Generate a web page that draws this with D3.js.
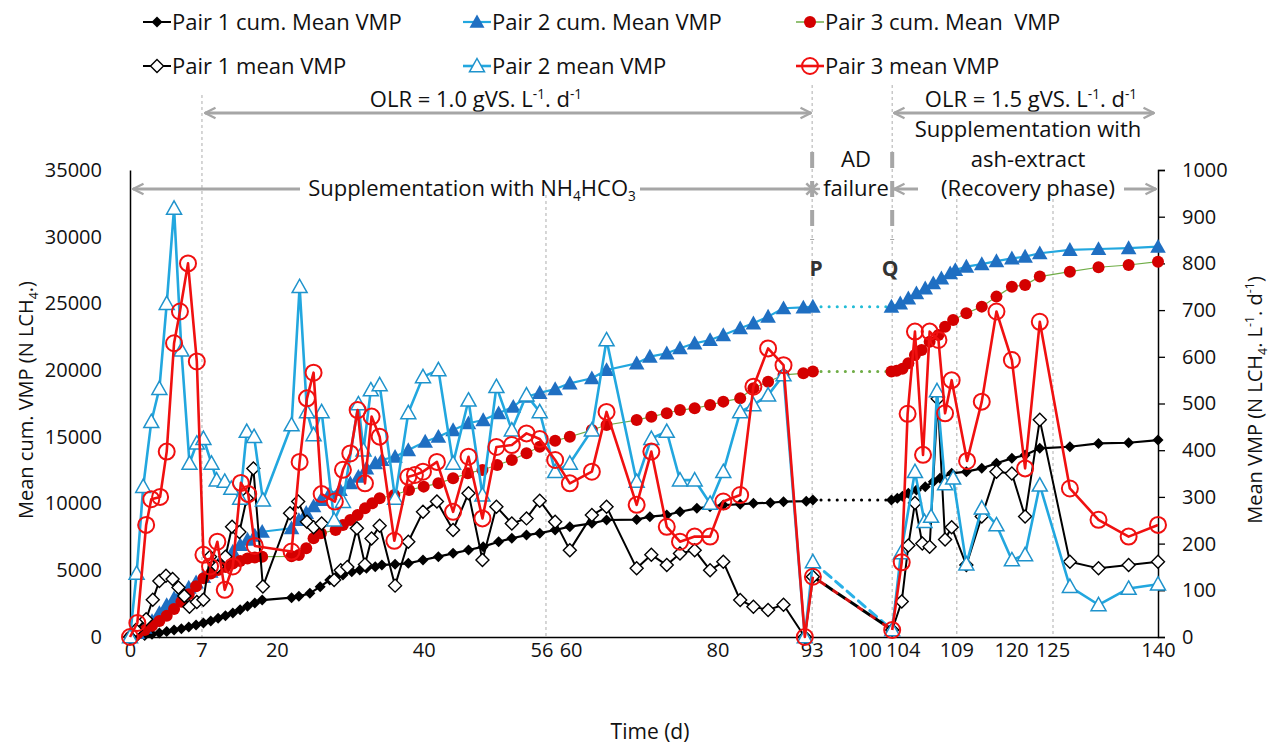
<!DOCTYPE html>
<html><head><meta charset="utf-8">
<script src="https://cdn.jsdelivr.net/npm/d3@7"></script>
<style>
body{margin:0;background:#fff;}
text{font-family:"Open Sans",sans-serif;fill:#111;}
</style></head><body>
<svg id="c" width="1283" height="746"></svg>
<script>
// ---------------- DATA ([day, value]) ----------------
// cumulative series (left axis), phase A (0-93 d) and phase B (104-140 d)
const p1CumA = [[0,0],[1,50],[2,120],[3,200],[4,300],[5,420],[6,520],[7,620],[8,750],[9,900],[10,1050],[11,1200],[12,1400],[13,1600],[14,1800],[15,2050],[16,2300],[17,2550],[18,2770],[22,2950],[23,3050],[24.5,3270],[25.9,3770],[27.2,4270],[28.1,4520],[29,4650],[30.2,4890],[31.3,5020],[32.2,5150],[33.4,5270],[34.3,5400],[36.1,5450],[37.9,5520],[39.9,5770],[42,6020],[44,6270],[46.1,6520],[48.1,6770],[50.2,7140],[52,7400],[54,7640],[55.8,7780],[57.9,8020],[59.9,8270],[62.9,8520],[64.9,8770],[69,8800],[70.8,9020],[73.1,9140],[74.9,9390],[77.2,9640],[79,9770],[80.8,9890],[83.1,9950],[84.9,10020],[87.2,10060],[89,10140],[92.1,10180],[93,10270]];
const p1CumB = [[103.7,10270],[104.5,10400],[105.2,10550],[106,10770],[107.1,11020],[108.3,11270],[109.4,11640],[110.3,11890],[111.9,12270],[113.9,12390],[116,12640],[118,13020],[120.1,13390],[121.9,13640],[123.9,14140],[128,14260],[131.9,14510],[136,14560],[140,14760]];
const p2CumA = [[0,0],[1,300],[2,700],[3,1200],[4,1800],[5,2400],[6,2900],[7,3350],[8,3700],[9,4100],[10,4500],[11,4900],[12,5400],[13,5900],[14,6400],[15,6900],[16,7300],[17,7600],[18,7890],[22,8150],[23,8770],[24,9300],[25,9800],[26,10270],[27.2,10770],[28.6,11020],[30,11520],[31.1,12010],[32.2,12640],[33.4,13020],[34.3,13270],[36.1,13510],[37.9,14010],[40.2,14640],[42,15010],[44,15510],[46.1,16020],[48.1,16260],[50.2,16770],[52.2,17260],[54,18010],[55.8,18300],[57.9,18580],[59.9,19010],[62.9,19390],[64.9,20010],[69,20510],[70.8,21010],[73.1,21260],[74.9,21640],[76.9,22010],[79,22260],[80.8,22630],[83.1,23140],[84.9,23510],[86.9,24010],[89,24640],[91.7,24700],[93,24760]];
const p2CumB = [[103.7,24760],[104.9,25010],[106,25380],[107.1,25760],[108.3,26130],[109.4,26510],[110.5,26880],[111.7,27260],[112.4,27510],[113.9,27760],[116,27950],[118,28170],[120.1,28380],[121.9,28510],[123.9,28760],[128,29010],[131.9,29080],[136,29150],[140,29250]];
const p3CumA = [[0,0],[1,250],[2,520],[3,850],[4,1200],[5,1600],[6,2100],[7,2650],[8,3200],[9,3800],[10,4400],[11,4750],[12,5020],[13,5250],[14,5500],[15,5700],[16,5880],[17,5960],[18,6020],[22,6050],[23,6150],[24,6650],[25,7400],[26,7770],[28,8020],[29,8390],[30,8770],[31,9140],[32,9640],[33,10020],[34,10400],[36,10640],[38,11020],[40,11270],[42,11520],[44,11890],[46,12270],[48,12520],[50,12890],[52,13270],[54,13770],[55.8,14260],[57.9,14700],[59.9,15010],[62.9,15510],[64.9,15890],[69,16260],[71,16510],[73.1,16770],[74.9,17010],[76.9,17140],[79,17390],[80.8,17640],[83.1,17890],[84.9,18640],[86.9,19130],[89,19640],[91.7,19760],[93,19890]];
const p3CumB = [[103.7,19890],[104.4,19950],[105.2,20100],[106,20510],[106.9,21130],[107.8,21510],[108.9,22130],[110.1,22630],[111,23260],[112.1,23760],[113.9,24260],[116,24760],[118,25510],[120.1,26250],[121.9,26380],[123.9,27010],[128,27380],[131.9,27710],[136,27880],[140,28130]];
// daily mean series (right axis)
const p1MeanA = [[0,0],[0.8,15],[2.2,38],[3.1,80],[4,120],[4.9,131],[5.8,124],[6.6,106],[7.4,88],[8.1,65],[9.1,75],[10,80],[10.9,172],[11.9,151],[13,172],[13.9,236],[14.9,225],[15.9,297],[16.8,361],[18.1,108],[21.8,265],[22.9,290],[24.1,247],[25,235],[26.1,243],[27.8,122],[28.7,143],[29.6,150],[30.9,233],[32,155],[32.9,211],[34,238],[36.1,110],[37.9,204],[39.9,268],[41.8,290],[44,229],[46.1,308],[48,165],[49.9,279],[52,243],[54,254],[55.8,292],[57.9,247],[59.9,186],[62.9,261],[64.9,279],[69,147],[71,176],[73.1,154],[74.9,179],[76.9,186],[79,143],[80.8,161],[83.1,79],[84.9,65],[86.9,58],[89,69],[91.9,0],[93,129]];
const p1MeanB = [[103.8,15],[105.1,76],[106,196],[106.9,287],[107.9,200],[108.9,193],[110,510],[111,209],[111.9,235],[113.9,154],[116,258],[118,354],[120.1,350],[121.9,258],[123.9,465],[128,161],[131.9,147],[136,154],[140,161]];
const p2MeanA = [[0,0],[0.9,136],[1.8,322],[2.9,461],[4,532],[5,714],[6,918],[7,614],[8.1,372],[9.1,415],[10,425],[11.1,372],[11.8,336],[12.9,333],[13.8,318],[15,297],[15.9,440],[16.9,429],[18.1,293],[22,454],[23.1,750],[24.1,482],[25,433],[26.1,482],[27.8,250],[29,290],[31.1,499],[31.8,400],[32.8,529],[34,540],[36.1,297],[37.9,480],[39.9,557],[42,572],[44,372],[46.1,507],[48,304],[49.9,536],[52,443],[54,518],[55.8,482],[57.9,354],[59.9,372],[62.9,443],[64.9,636],[69,333],[71,425],[73.1,440],[74.9,336],[76.9,336],[79,286],[80.8,354],[83.1,482],[84.9,497],[86.9,518],[89,561],[91.9,0],[93,161]];
const p2MeanB = [[103.8,15],[105,180],[106.9,354],[108.2,247],[109.1,258],[109.9,527],[111,328],[112.1,340],[113.9,156],[116,276],[118,240],[120.1,165],[121.9,176],[123.9,325],[128,108],[131.9,69],[136,104],[140,113]];
const p3MeanA = [[0,0],[1,30],[2.2,240],[2.9,295],[4.1,300],[5,397],[6,629],[6.8,697],[7.9,800],[9.1,590],[10,176],[10.9,151],[11.9,204],[12.9,101],[14,151],[15.1,330],[16.1,306],[17,195],[22,183],[23.1,375],[24.1,511],[25,566],[26.1,306],[27.9,290],[29,358],[30,393],[31,486],[32,329],[32.9,472],[34,429],[36,206],[37.9,343],[38.8,347],[39.9,354],[41.8,375],[44,268],[46.1,386],[48,254],[49.9,407],[52,411],[54,436],[55.8,424],[57.9,379],[59.9,329],[62.9,354],[64.9,482],[69,283],[71,397],[73.1,236],[74.9,204],[76.9,215],[79,215],[80.8,290],[83.1,304],[84.9,536],[86.9,618],[89,582],[91.9,0],[93,129]];
const p3MeanB = [[103.8,15],[105.1,160],[105.9,478],[106.9,654],[108,390],[108.9,654],[110.1,636],[111,479],[111.9,550],[114,377],[116,504],[118,697],[120.1,593],[121.9,361],[123.9,675],[128,318],[131.9,251],[136,215],[140,240]];

const xTicks = [0,20,40,60,80,100,120,140];
const yLeftTicks = [0,5000,10000,15000,20000,25000,30000,35000];
const yRightTicks = [0,100,200,300,400,500,600,700,800,900,1000];
const phaseLabels = ['7','56','93','104','109','125'];
const phaseDays = [9.8,56.65,92.9,103.8,112.6,125.7];
const legendLabels = ['Pair 1 cum. Mean VMP','Pair 2 cum. Mean VMP','Pair 3 cum. Mean  VMP','Pair 1 mean VMP','Pair 2 mean VMP','Pair 3 mean VMP'];

// ---------------- SETUP ----------------
const svg = d3.select('#c');
const x = d3.scaleLinear().domain([0,140]).range([130,1158]);
const yL = d3.scaleLinear().domain([0,35000]).range([637,170]);
const yR = d3.scaleLinear().domain([0,1000]).range([637,170]);
const GRAY = '#a6a6a6';
const FS = 22; // annotation / legend font size

const C = {
  p1:'#000000',
  p2line:'#22a7df', p2mk:'#1f6fc2', p2open:'#1f93cc',
  p3mk:'#d40000', p3line:'#70ad47', p3mean:'#f01010'
};

const defs = svg.append('defs');
defs.append('marker').attr('id','arr').attr('viewBox','0 0 12 12').attr('refX',11).attr('refY',6)
  .attr('markerUnits','userSpaceOnUse').attr('markerWidth',14).attr('markerHeight',14)
  .attr('orient','auto-start-reverse')
  .append('path').attr('d','M2,1.5 L11,6 L2,10.5').attr('fill','none').attr('stroke',GRAY).attr('stroke-width',2);

function rich(g, xx, yy, parts, opts={}) {
  const t = g.append('text').attr('x',xx).attr('y',yy)
    .attr('text-anchor', opts.anchor||'middle')
    .style('font-size',(opts.size||FS)+'px');
  if (opts.weight) t.style('font-weight',opts.weight);
  if (opts.fill) t.style('fill',opts.fill);
  let off = 0;
  parts.forEach(p => {
    const [s,kind] = typeof p==='string' ? [p,null] : p;
    const target = kind==='sub' ? 5 : kind==='sup' ? -8 : 0;
    const ts = t.append('tspan').attr('dy', target-off).text(s);
    if (kind) ts.style('font-size','0.62em');
    off = target;
  });
  return t;
}

// ---------------- GUIDE LINES ----------------
const guideTop = [95,195,85,85,193,193];
phaseDays.forEach((d,i)=>{
  svg.append('line').attr('x1',x(d)).attr('x2',x(d)).attr('y1',guideTop[i]).attr('y2',637)
    .attr('stroke','#b5b5b5').attr('stroke-width',1.1).attr('stroke-dasharray','3,3');
});
// thick dashed at P and Q
[92.9,103.8].forEach(d=>{
  svg.append('line').attr('x1',x(d)).attr('x2',x(d)).attr('y1',152).attr('y2',240)
    .attr('stroke',GRAY).attr('stroke-width',4).attr('stroke-dasharray','16,13');
});

// ---------------- AXES ----------------
const fmt = d3.format('d');
const axL = svg.append('g').attr('transform','translate(130,0)')
  .call(d3.axisLeft(yL).tickValues(yLeftTicks).tickSize(0).tickPadding(28).tickFormat(fmt));
const axR = svg.append('g').attr('transform','translate(1158,0)')
  .call(d3.axisRight(yR).tickValues(yRightTicks).tickSize(7).tickPadding(17).tickFormat(fmt));
const axB = svg.append('g').attr('transform','translate(0,637)')
  .call(d3.axisBottom(x).tickValues(xTicks).tickSize(0).tickPadding(6).tickFormat(fmt));
[axL,axR,axB].forEach(a=>{
  a.selectAll('text').style('font-size','20px').style('font-family','"Open Sans",sans-serif').attr('fill','#111');
  a.select('.domain').attr('stroke','#000').attr('stroke-width',1.5);
  a.selectAll('.tick line').attr('stroke','#000').attr('stroke-width',1.3);
});
// phase day labels on x axis (small nudges keep them clear of the regular ticks)
const phaseNudge = [0,-4,0,11,0,0];
phaseDays.forEach((d,i)=>{
  svg.append('text').attr('x',x(d)+phaseNudge[i]).attr('y',637+6).attr('dy','0.71em').attr('text-anchor','middle')
    .style('font-size','20px').text(phaseLabels[i]);
});

// ---------------- SERIES ----------------
const diamond = r => `M0,${-r}L${r},0L0,${r}L${-r},0Z`;
const tri = s => `M0,${-s}L${s},${s*0.78}L${-s},${s*0.78}Z`;

function lineOf(data, y, stroke, w, dash) {
  return svg.append('path').datum(data)
    .attr('d', d3.line().x(d=>x(d[0])).y(d=>y(d[1])))
    .attr('fill','none').attr('stroke',stroke).attr('stroke-width',w)
    .attr('stroke-linejoin','round').attr('stroke-linecap', dash ? 'round':'butt')
    .attr('stroke-dasharray', dash||null);
}
function marks(data, y, kind, fill, stroke, sw) {
  const g = svg.append('g');
  data.forEach(d=>{
    let m;
    if (kind.type==='circle') m = g.append('circle').attr('r',kind.size).attr('cx',x(d[0])).attr('cy',y(d[1]));
    else m = g.append('path').attr('d', kind.type==='diamond'?diamond(kind.size):tri(kind.size))
      .attr('transform',`translate(${x(d[0])},${y(d[1])})`);
    m.attr('fill',fill).attr('stroke',stroke||'none').attr('stroke-width',sw||0);
  });
}
const gap = (a,b) => [a[a.length-1], b[0]];

// pair 1 cum
lineOf(p1CumA,yL,C.p1,2.2); lineOf(p1CumB,yL,C.p1,2.2);
lineOf(gap(p1CumA,p1CumB),yL,C.p1,3,'0.1,8');
marks(p1CumA.concat(p1CumB),yL,{type:'diamond',size:5.5},C.p1);
// pair 2 cum
lineOf(p2CumA,yL,C.p2line,2.2); lineOf(p2CumB,yL,C.p2line,2.2);
lineOf(gap(p2CumA,p2CumB),yL,'#22bcd6',3,'0.1,8');
marks(p2CumA.concat(p2CumB),yL,{type:'tri',size:7.8},C.p2mk);
// pair 3 cum
lineOf(p3CumA,yL,C.p3line,1.2); lineOf(p3CumB,yL,C.p3line,1.2);
lineOf(gap(p3CumA,p3CumB),yL,C.p3line,3,'0.1,8');
marks(p3CumA.concat(p3CumB),yL,{type:'circle',size:6},C.p3mk);
// gap dashed for means
lineOf(gap(p2MeanA,p2MeanB),yR,'#2ab1e8',3,'9,6');
lineOf(gap(p1MeanA,p1MeanB),yR,'#000',3,'9,6');
lineOf(gap(p3MeanA,p3MeanB),yR,'#d01010',3,'4,11').attr('stroke-dashoffset',-10);
// pair 1 mean
lineOf(p1MeanA,yR,C.p1,2); lineOf(p1MeanB,yR,C.p1,2);
marks(p1MeanA.concat(p1MeanB),yR,{type:'diamond',size:6.5},'#fff','#000',1.4);
// pair 2 mean
lineOf(p2MeanA,yR,C.p2line,2.6); lineOf(p2MeanB,yR,C.p2line,2.6);
marks(p2MeanA.concat(p2MeanB),yR,{type:'tri',size:7.5},'#fff',C.p2open,1.5);
// pair 3 mean
lineOf(p3MeanA,yR,C.p3mean,2.6); lineOf(p3MeanB,yR,C.p3mean,2.6);
marks(p3MeanA.concat(p3MeanB),yR,{type:'circle',size:8},'none',C.p3mean,2);

// ---------------- LEGEND ----------------
const legPos = [[157,22],[477,22],[810,22],[157,66],[477,66],[810,66]];
const legStyle = [
  {line:C.p1,w:2,mk:'diamond',size:5.5,fill:C.p1},
  {line:C.p2line,w:2.2,mk:'tri',size:7.5,fill:C.p2mk},
  {line:C.p3line,w:1.5,mk:'circle',size:6,fill:C.p3mk},
  {line:C.p1,w:2,mk:'diamond',size:6.5,fill:'#fff',stroke:'#000',sw:1.4},
  {line:C.p2line,w:2.6,mk:'tri',size:7.5,fill:'#fff',stroke:C.p2open,sw:1.5},
  {line:C.p3mean,w:2.6,mk:'circle',size:8,fill:'none',stroke:C.p3mean,sw:2}
];
legendLabels.forEach((lab,i)=>{
  const [cx,cy] = legPos[i], s = legStyle[i];
  const g = svg.append('g');
  g.append('line').attr('x1',cx-14).attr('x2',cx+14).attr('y1',cy).attr('y2',cy).attr('stroke',s.line).attr('stroke-width',s.w);
  let m;
  if (s.mk==='circle') m = g.append('circle').attr('cx',cx).attr('cy',cy).attr('r',s.size);
  else m = g.append('path').attr('d', s.mk==='diamond'?diamond(s.size):tri(s.size)).attr('transform',`translate(${cx},${cy})`);
  m.attr('fill',s.fill).attr('stroke',s.stroke||'none').attr('stroke-width',s.sw||0);
  g.append('text').attr('x',cx+15).attr('y',cy+8).style('font-size',FS+'px').style('white-space','pre').text(lab);
});

// ---------------- ANNOTATIONS ----------------
const A = svg.append('g');
rich(A,476,107,['OLR = 1.0 gVS. L',['-1','sup'],'. d',['-1','sup']]);
rich(A,1031,107,['OLR = 1.5 gVS. L',['-1','sup'],'. d',['-1','sup']]);
rich(A,1028,137,['Supplementation with']);
rich(A,1028,167,['ash-extract']);
rich(A,1028,196,['(Recovery phase)']);
rich(A,472,196,['Supplementation with NH',['4','sub'],'HCO',['3','sub']]);
rich(A,856,167,['AD']);
rich(A,856,196,['failure']);
rich(A,816,276,['P'],{weight:'bold',fill:'#333',size:21});
rich(A,890,276,['Q'],{weight:'bold',fill:'#333',size:21});

function arrow(x1,x2,y,start,end){
  const l = A.append('line').attr('x1',x1).attr('x2',x2).attr('y1',y).attr('y2',y)
    .attr('stroke',GRAY).attr('stroke-width',3);
  if (start) l.attr('marker-start','url(#arr)');
  if (end) l.attr('marker-end','url(#arr)');
}
arrow(205,811,113,true,true);
arrow(894,1154,113,true,true);
arrow(300,133,189,false,true);
arrow(640,812,189,false,false);
arrow(918,894,189,false,true);
arrow(1124,1156,189,false,true);
// asterisk at P
[0,45,90,135].forEach(a=>{
  A.append('line').attr('x1',-8).attr('x2',8).attr('y1',0).attr('y2',0)
    .attr('transform',`translate(812,189) rotate(${a})`).attr('stroke',GRAY).attr('stroke-width',2.5);
});

// ---------------- AXIS TITLES ----------------
rich(svg,650,739,['Time (d)'],{size:21});
const tl = svg.append('g').attr('transform','translate(26,400) rotate(-90)');
rich(tl,0,7,['Mean cum. VMP (N LCH',['4','sub'],'.)'],{size:20});
const tr = svg.append('g').attr('transform','translate(1255,400) rotate(-90)');
rich(tr,0,7,['Mean VMP (N LCH',['4','sub'],'. L',['-1','sup'],'. d',['-1','sup'],')'],{size:20});
</script></body></html>
